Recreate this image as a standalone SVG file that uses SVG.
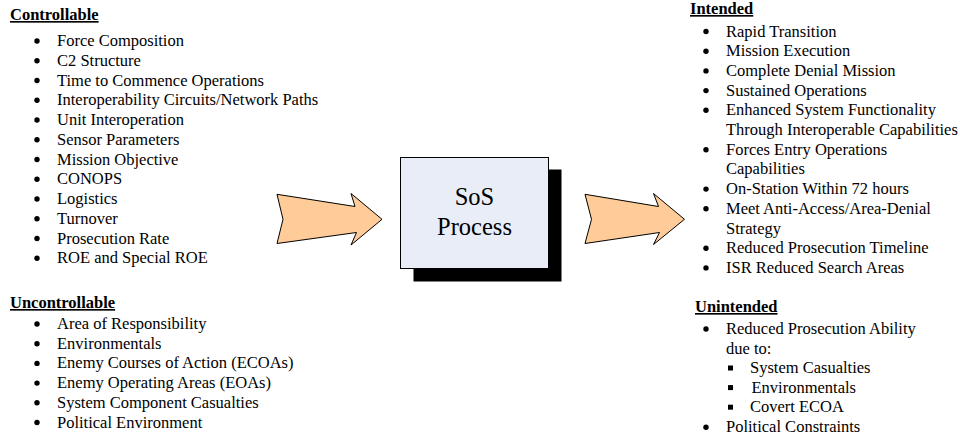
<svg xmlns="http://www.w3.org/2000/svg" width="960" height="438" viewBox="0 0 960 438">
<style>
  text { font-family: "Liberation Serif", "Times New Roman", serif; fill: #000; }
  .item { font-size: 16.5px; }
  .head { font-size: 16.5px; font-weight: bold; text-decoration: underline; }
  .title { font-size: 24.5px; text-anchor: middle; }
  .arrow { fill: #FFCC99; stroke: #000; stroke-width: 1; stroke-linejoin: miter; }
  .bul { fill: #000; }
</style>
<rect width="960" height="438" fill="#fff"/>

<g id="controllable">
  <text class="head" x="10" y="20">Controllable</text>
  <g class="bul">
    <circle cx="37" cy="41" r="2.7"/>
    <circle cx="37" cy="60.75" r="2.7"/>
    <circle cx="37" cy="80.5" r="2.7"/>
    <circle cx="37" cy="100.25" r="2.7"/>
    <circle cx="37" cy="120" r="2.7"/>
    <circle cx="37" cy="139.75" r="2.7"/>
    <circle cx="37" cy="159.5" r="2.7"/>
    <circle cx="37" cy="179.25" r="2.7"/>
    <circle cx="37" cy="199" r="2.7"/>
    <circle cx="37" cy="218.75" r="2.7"/>
    <circle cx="37" cy="238.5" r="2.7"/>
    <circle cx="37" cy="258.25" r="2.7"/>
  </g>
  <text class="item" x="57" y="46">Force Composition</text>
  <text class="item" x="57" y="65.75">C2 Structure</text>
  <text class="item" x="57" y="85.5">Time to Commence Operations</text>
  <text class="item" x="57" y="105.25">Interoperability Circuits/Network Paths</text>
  <text class="item" x="57" y="125">Unit Interoperation</text>
  <text class="item" x="57" y="144.75">Sensor Parameters</text>
  <text class="item" x="57" y="164.5">Mission Objective</text>
  <text class="item" x="57" y="184.25">CONOPS</text>
  <text class="item" x="57" y="204">Logistics</text>
  <text class="item" x="57" y="223.75">Turnover</text>
  <text class="item" x="57" y="243.5">Prosecution Rate</text>
  <text class="item" x="57" y="263.25">ROE and Special ROE</text>
</g>

<g id="uncontrollable">
  <text class="head" x="10" y="308">Uncontrollable</text>
  <g class="bul">
    <circle cx="37" cy="324" r="2.7"/>
    <circle cx="37" cy="343.7" r="2.7"/>
    <circle cx="37" cy="363.4" r="2.7"/>
    <circle cx="37" cy="383.1" r="2.7"/>
    <circle cx="37" cy="402.8" r="2.7"/>
    <circle cx="37" cy="422.5" r="2.7"/>
  </g>
  <text class="item" x="57" y="329">Area of Responsibility</text>
  <text class="item" x="57" y="348.7">Environmentals</text>
  <text class="item" x="57" y="368.4">Enemy Courses of Action (ECOAs)</text>
  <text class="item" x="57" y="388.1">Enemy Operating Areas (EOAs)</text>
  <text class="item" x="57" y="407.8">System Component Casualties</text>
  <text class="item" x="57" y="427.5">Political Environment</text>
</g>

<g id="connectors">
  <polygon class="arrow" points="277,194.3 355,206.5 351,193.5 382,219.3 351,245 356.5,232.5 277,243.5 283,219.3"/>
  <polygon class="arrow" points="585,194.3 658.5,206.5 653.5,193.5 684.5,219.3 653.5,244.5 659.5,232.5 585,243.5 591.5,219.3"/>
</g>

<g id="sos-process">
  <rect x="413.5" y="169.5" width="148" height="112" fill="#000"/>
  <rect x="400.5" y="157.5" width="148" height="111" fill="#E8EDF7" stroke="#000" stroke-width="1"/>
  <text class="title" x="474.5" y="205">SoS</text>
  <text class="title" x="474.5" y="235">Process</text>
</g>

<g id="intended">
  <text class="head" x="690" y="14">Intended</text>
  <g class="bul">
    <circle cx="706" cy="31.5" r="2.7"/>
    <circle cx="706" cy="51.2" r="2.7"/>
    <circle cx="706" cy="70.9" r="2.7"/>
    <circle cx="706" cy="90.6" r="2.7"/>
    <circle cx="706" cy="110.3" r="2.7"/>
    <circle cx="706" cy="149.7" r="2.7"/>
    <circle cx="706" cy="189.1" r="2.7"/>
    <circle cx="706" cy="208.8" r="2.7"/>
    <circle cx="706" cy="248.2" r="2.7"/>
    <circle cx="706" cy="267.9" r="2.7"/>
  </g>
  <text class="item" x="726" y="36.5">Rapid Transition</text>
  <text class="item" x="726" y="56.2">Mission Execution</text>
  <text class="item" x="726" y="75.9">Complete Denial Mission</text>
  <text class="item" x="726" y="95.6">Sustained Operations</text>
  <text class="item" x="726" y="115.3">Enhanced System Functionality</text>
  <text class="item" x="726" y="135">Through Interoperable Capabilities</text>
  <text class="item" x="726" y="154.7">Forces Entry Operations</text>
  <text class="item" x="726" y="174.4">Capabilities</text>
  <text class="item" x="726" y="194.1">On-Station Within 72 hours</text>
  <text class="item" x="726" y="213.8">Meet Anti-Access/Area-Denial</text>
  <text class="item" x="726" y="233.5">Strategy</text>
  <text class="item" x="726" y="253.2">Reduced Prosecution Timeline</text>
  <text class="item" x="726" y="272.9">ISR Reduced Search Areas</text>
</g>

<g id="unintended">
  <text class="head" x="695" y="312">Unintended</text>
  <g class="bul">
    <circle cx="706" cy="329" r="2.7"/>
    <circle cx="706" cy="427.2" r="2.7"/>
    <rect x="728" y="365.5" width="5" height="5"/>
    <rect x="728" y="385.1" width="5" height="5"/>
    <rect x="728" y="404.7" width="5" height="5"/>
  </g>
  <text class="item" x="726" y="334">Reduced Prosecution Ability</text>
  <text class="item" x="726" y="353.6">due to:</text>
  <text class="item" x="750" y="373.2">System Casualties</text>
  <text class="item" x="751.5" y="392.8">Environmentals</text>
  <text class="item" x="750" y="412.4">Covert ECOA</text>
  <text class="item" x="726" y="432">Political Constraints</text>
</g>
</svg>
